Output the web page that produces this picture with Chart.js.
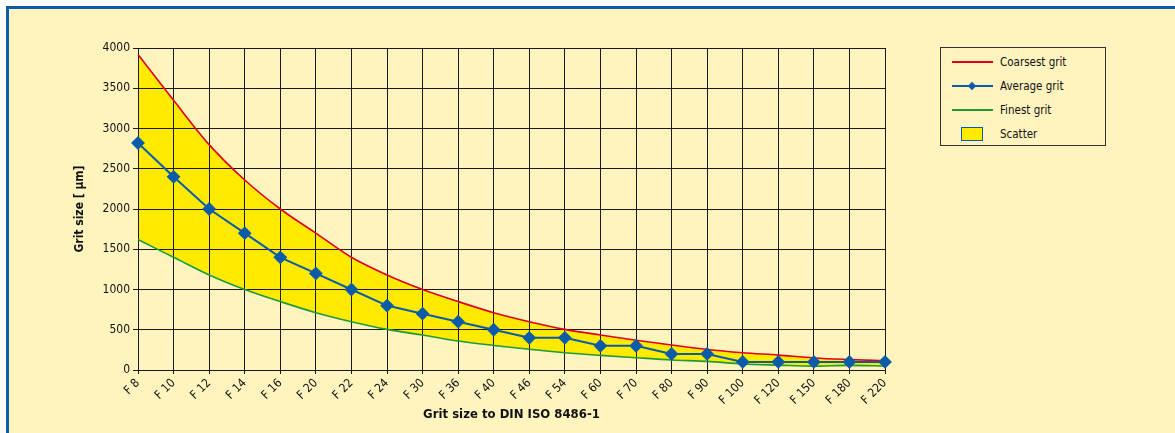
<!DOCTYPE html>
<html>
<head>
<meta charset="utf-8">
<script src="https://cdn.jsdelivr.net/npm/chart.js@4/dist/chart.umd.min.js"></script>
<style>
  html, body { margin: 0; padding: 0; background: #ffffff; }
  body { width: 1175px; height: 433px; position: relative; overflow: hidden; font-family: "DejaVu Sans Condensed", "Liberation Sans", sans-serif; }
  #frame { position: absolute; left: 6px; top: 6px; right: 0; bottom: 0; background: #FFF3BE; border-top: 3px solid #0E5CA8; border-left: 3px solid #0E5CA8; }
  #wrap { position: absolute; left: 0; top: 0; width: 1175px; height: 433px; }
  #legend { position: absolute; left: 940px; top: 47px; width: 166px; height: 99px; border: 1px solid #333; box-sizing: border-box; background: #FFF3BE; }
  .row { position: absolute; left: 0; height: 16px; width: 100%; }
  .row .txt { position: absolute; left: 59px; top: 0; font-size: 11.5px; line-height: 16px; color: #111; }
  .sw { position: absolute; left: 11px; top: 7px; width: 41px; height: 2px; }
  .dia { position: absolute; left: 28px; top: 5px; width: 6px; height: 6px; background: #0A5CA8; transform: rotate(45deg); }
  .box { position: absolute; left: 20px; top: 1px; width: 22px; height: 14px; background: #FFEA00; border: 1.5px solid #0A5CA8; box-sizing: border-box; }
</style>
</head>
<body>
<div id="frame"></div>
<div id="wrap"><canvas id="c" width="1175" height="433"></canvas></div>
<div id="legend">
  <div class="row" style="top:6px"><div class="sw" style="background:#E2001A"></div><div class="txt">Coarsest grit</div></div>
  <div class="row" style="top:30px"><div class="sw" style="background:#0A5CA8"></div><div class="dia"></div><div class="txt">Average grit</div></div>
  <div class="row" style="top:54px"><div class="sw" style="background:#1E9A3C"></div><div class="txt">Finest grit</div></div>
  <div class="row" style="top:78px"><div class="box"></div><div class="txt">Scatter</div></div>
</div>
<script>
const categories = ["F 8","F 10","F 12","F 14","F 16","F 20","F 22","F 24","F 30","F 36","F 40","F 46","F 54","F 60","F 70","F 80","F 90","F 100","F 120","F 150","F 180","F 220"];
const coarsest = [3920,3350,2800,2360,2000,1700,1400,1180,1000,850,712,600,505,435,370,310,255,215,185,150,130,115];
const average  = [2820,2400,2000,1700,1400,1200,1000,800,700,600,500,400,400,300,300,200,200,100,100,100,100,100];
const finest   = [1620,1400,1180,1000,850,712,600,505,435,360,305,257,215,182,153,125,107,75,60,48,58,50];
const yTicks = [0,500,1000,1500,2000,2500,3000,3500,4000];
const seriesNames = ["Coarsest grit","Average grit","Finest grit","Scatter"];

const FONT = "'DejaVu Sans Condensed', 'Liberation Sans', sans-serif";

const gridOnTop = {
  id: 'gridOnTop',
  beforeDatasetsDraw(chart) {
    chart.getSortedVisibleDatasetMetas().forEach(m => {
      if (m.dataset && m.dataset.updateControlPoints) m.dataset.updateControlPoints(chart.chartArea, 'x');
    });
  },
  afterDatasetDraw(chart, args) {
    if (args.index === 0) {
      chart.scales.x.drawGrid(chart.chartArea);
      chart.scales.y.drawGrid(chart.chartArea);
    }
  }
};

new Chart(document.getElementById('c'), {
  type: 'line',
  data: {
    labels: categories,
    datasets: [
      { label: seriesNames[3], data: coarsest, borderWidth: 0, borderColor: 'rgba(0,0,0,0)', pointRadius: 0, cubicInterpolationMode: 'monotone',
        fill: { target: 3 }, backgroundColor: '#FFEA00', order: 10 },
      { label: seriesNames[0], data: coarsest, borderColor: '#E2001A', borderWidth: 1.6, pointRadius: 0, cubicInterpolationMode: 'monotone', fill: false, order: 3 },
      { label: seriesNames[1], data: average, borderColor: '#0A5CA8', borderWidth: 2, pointStyle: 'rectRot', pointRadius: 5.5,
        pointBackgroundColor: '#0A5CA8', pointBorderColor: '#0A5CA8', fill: false, order: 1 },
      { label: seriesNames[2], data: finest, borderColor: '#1E9A3C', borderWidth: 1.6, pointRadius: 0, cubicInterpolationMode: 'monotone', fill: false, order: 2 }
    ]
  },
  plugins: [gridOnTop],
  options: {
    responsive: false,
    animation: false,
    layout: { padding: { left: 0, top: 48, right: 290, bottom: 0 } },
    plugins: {
      legend: { display: false },
      tooltip: { enabled: false }
    },
    scales: {
      x: {
        offset: false,
        grid: { color: '#1a1a1a', lineWidth: 1, tickLength: 4 },
        border: { color: '#1a1a1a', width: 1 },
        ticks: { color: '#111', font: { family: FONT, size: 12 }, minRotation: 45, maxRotation: 45, padding: 2, autoSkip: false },
        title: { display: true, text: 'Grit size to DIN ISO 8486-1', color: '#111', font: { family: FONT, size: 13, weight: 'bold' }, padding: { top: 0, bottom: 11 } },
        afterFit: (s) => { s.height = 63; }
      },
      y: {
        min: 0, max: 4000,
        afterBuildTicks: (s) => { s.ticks = yTicks.map(v => ({ value: v })); },
        grid: { color: '#1a1a1a', lineWidth: 1, tickLength: 5 },
        border: { color: '#1a1a1a', width: 1 },
        ticks: { color: '#111', font: { family: FONT, size: 12 }, padding: 3, callback: (v) => String(v) },
        title: { display: true, text: 'Grit size [ µm]', color: '#111', font: { family: FONT, size: 12, weight: 'bold' }, padding: { top: 73, bottom: 0 } },
        afterFit: (s) => { s.width = 138; }
      }
    }
  }
});
</script>
</body>
</html>
